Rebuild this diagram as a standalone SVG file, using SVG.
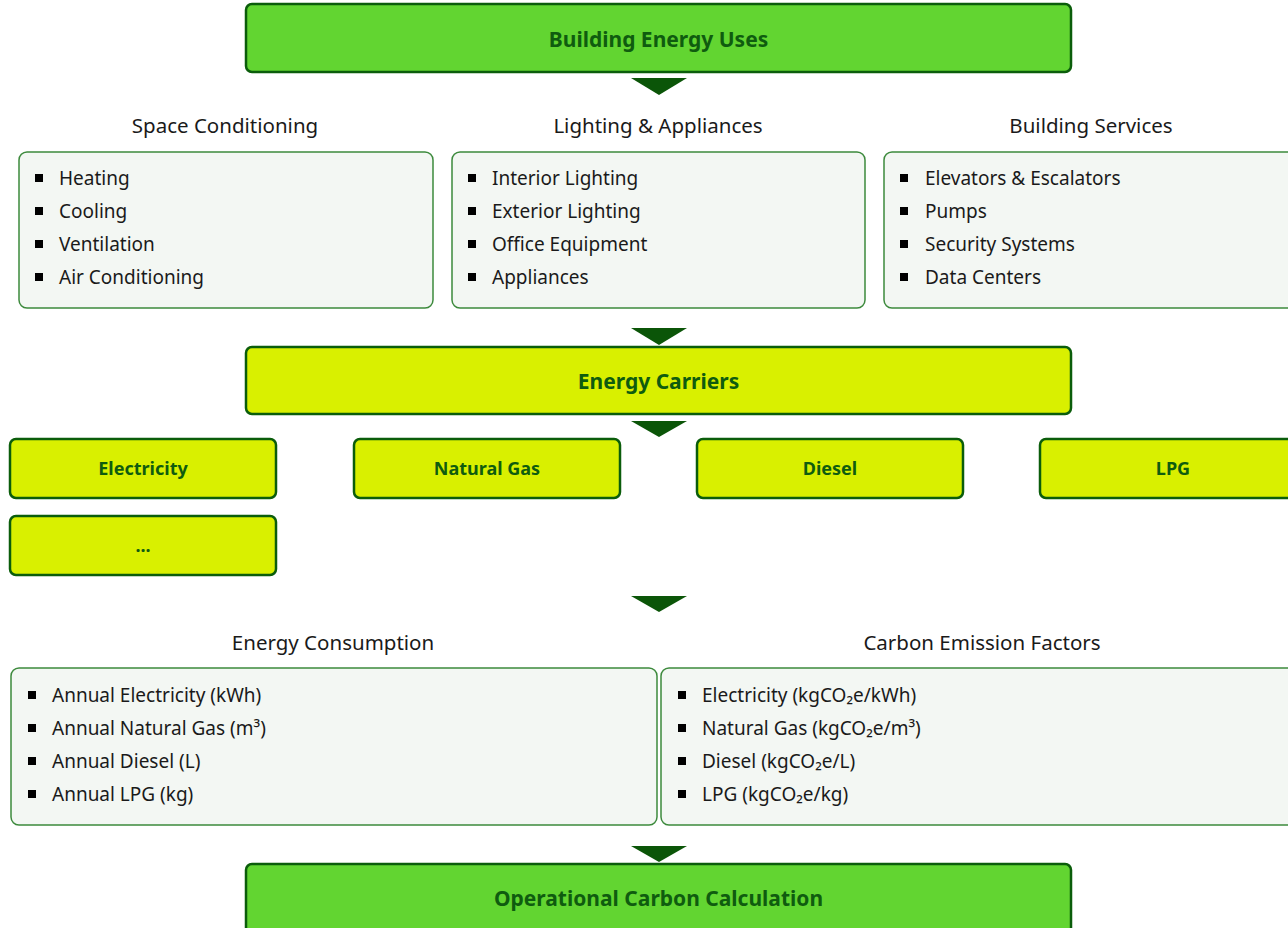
<svg xmlns="http://www.w3.org/2000/svg" width="1288" height="928" viewBox="0 0 1288 928">
  <style>
    .bar-green { fill: #62d531; stroke: #0b5d0b; stroke-width: 2.5; }
    .bar-lime { fill: #d9f000; stroke: #0b5d0b; stroke-width: 2.5; }
    .panel { fill: #f3f7f3; stroke: #3d8a3d; stroke-width: 1.5; }
    .bar-text { font-family: "Noto Sans", "Open Sans", sans-serif; font-weight: bold; font-size: 21px; fill: #0f5c0f; text-anchor: middle; }
    .chip-text { font-family: "Noto Sans", "Open Sans", sans-serif; font-weight: bold; font-size: 18px; fill: #0f5c0f; text-anchor: middle; }
    .heading { font-family: "Noto Sans", "Open Sans", sans-serif; font-size: 20.5px; fill: #1a1a1a; text-anchor: middle; }
    .item { font-family: "Noto Sans", "Open Sans", sans-serif; font-size: 19px; fill: #1a1a1a; }
    .bullet { fill: #000; }
    .arrow { fill: #0b5508; }
  </style>

  <!-- flow arrows between stages -->
  <g id="connectors">
    <polygon class="arrow" points="631,78 687,78 659,95"/>
    <polygon class="arrow" points="631,328 687,328 659,345"/>
    <polygon class="arrow" points="631,421 687,421 659,437"/>
    <polygon class="arrow" points="631,596 687,596 659,612"/>
    <polygon class="arrow" points="631,846 687,846 659,862"/>
  </g>

  <g id="building-energy-uses">
    <rect class="bar-green" x="246" y="4" width="825" height="68" rx="6"/>
    <text class="bar-text" x="658.5" y="47">Building Energy Uses</text>
  </g>

  <g id="space-conditioning">
    <text class="heading" x="225" y="133">Space Conditioning</text>
    <rect class="panel" x="19" y="152" width="414" height="156" rx="8"/>
    <rect class="bullet" x="35" y="174" width="8" height="8"/>
    <text class="item" x="59" y="185">Heating</text>
    <rect class="bullet" x="35" y="207" width="8" height="8"/>
    <text class="item" x="59" y="218">Cooling</text>
    <rect class="bullet" x="35" y="240" width="8" height="8"/>
    <text class="item" x="59" y="251">Ventilation</text>
    <rect class="bullet" x="35" y="273" width="8" height="8"/>
    <text class="item" x="59" y="284">Air Conditioning</text>
  </g>

  <g id="lighting-appliances">
    <text class="heading" x="658" y="133">Lighting &amp; Appliances</text>
    <rect class="panel" x="452" y="152" width="413" height="156" rx="8"/>
    <rect class="bullet" x="468" y="174" width="8" height="8"/>
    <text class="item" x="492" y="185">Interior Lighting</text>
    <rect class="bullet" x="468" y="207" width="8" height="8"/>
    <text class="item" x="492" y="218">Exterior Lighting</text>
    <rect class="bullet" x="468" y="240" width="8" height="8"/>
    <text class="item" x="492" y="251">Office Equipment</text>
    <rect class="bullet" x="468" y="273" width="8" height="8"/>
    <text class="item" x="492" y="284">Appliances</text>
  </g>

  <g id="building-services">
    <text class="heading" x="1091" y="133">Building Services</text>
    <rect class="panel" x="884" y="152" width="414" height="156" rx="8"/>
    <rect class="bullet" x="900" y="174" width="8" height="8"/>
    <text class="item" x="925" y="185">Elevators &amp; Escalators</text>
    <rect class="bullet" x="900" y="207" width="8" height="8"/>
    <text class="item" x="925" y="218">Pumps</text>
    <rect class="bullet" x="900" y="240" width="8" height="8"/>
    <text class="item" x="925" y="251">Security Systems</text>
    <rect class="bullet" x="900" y="273" width="8" height="8"/>
    <text class="item" x="925" y="284">Data Centers</text>
  </g>

  <g id="energy-carriers">
    <rect class="bar-lime" x="246" y="347" width="825" height="67" rx="6"/>
    <text class="bar-text" x="658.5" y="389">Energy Carriers</text>
  </g>

  <g id="carrier-electricity">
    <rect class="bar-lime" x="10" y="439" width="266" height="59" rx="6"/>
    <text class="chip-text" x="143" y="475">Electricity</text>
  </g>
  <g id="carrier-natural-gas">
    <rect class="bar-lime" x="354" y="439" width="266" height="59" rx="6"/>
    <text class="chip-text" x="487" y="475">Natural Gas</text>
  </g>
  <g id="carrier-diesel">
    <rect class="bar-lime" x="697" y="439" width="266" height="59" rx="6"/>
    <text class="chip-text" x="830" y="475">Diesel</text>
  </g>
  <g id="carrier-lpg">
    <rect class="bar-lime" x="1040" y="439" width="266" height="59" rx="6"/>
    <text class="chip-text" x="1173" y="475">LPG</text>
  </g>
  <g id="carrier-more">
    <rect class="bar-lime" x="10" y="516" width="266" height="59" rx="6"/>
    <text class="chip-text" x="143" y="552">...</text>
  </g>

  <g id="energy-consumption">
    <text class="heading" x="333" y="650">Energy Consumption</text>
    <rect class="panel" x="11" y="668" width="646" height="157" rx="8"/>
    <rect class="bullet" x="28" y="691" width="8" height="8"/>
    <text class="item" x="52" y="702">Annual Electricity (kWh)</text>
    <rect class="bullet" x="28" y="724" width="8" height="8"/>
    <text class="item" x="52" y="735">Annual Natural Gas (m³)</text>
    <rect class="bullet" x="28" y="757" width="8" height="8"/>
    <text class="item" x="52" y="768">Annual Diesel (L)</text>
    <rect class="bullet" x="28" y="790" width="8" height="8"/>
    <text class="item" x="52" y="801">Annual LPG (kg)</text>
  </g>

  <g id="carbon-emission-factors">
    <text class="heading" x="982" y="650">Carbon Emission Factors</text>
    <rect class="panel" x="661" y="668" width="646" height="157" rx="8"/>
    <rect class="bullet" x="678" y="691" width="8" height="8"/>
    <text class="item" x="702" y="702">Electricity (kgCO₂e/kWh)</text>
    <rect class="bullet" x="678" y="724" width="8" height="8"/>
    <text class="item" x="702" y="735">Natural Gas (kgCO₂e/m³)</text>
    <rect class="bullet" x="678" y="757" width="8" height="8"/>
    <text class="item" x="702" y="768">Diesel (kgCO₂e/L)</text>
    <rect class="bullet" x="678" y="790" width="8" height="8"/>
    <text class="item" x="702" y="801">LPG (kgCO₂e/kg)</text>
  </g>

  <g id="operational-carbon-calculation">
    <rect class="bar-green" x="246" y="864" width="825" height="70" rx="6"/>
    <text class="bar-text" x="658.5" y="906">Operational Carbon Calculation</text>
  </g>
</svg>
